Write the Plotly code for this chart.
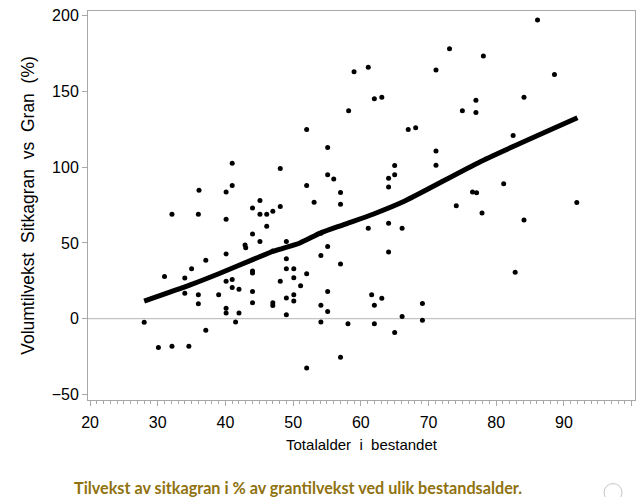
import plotly.graph_objects as go

# Stand age (years) and volume growth of Sitka spruce relative to Norway spruce (%)
age_x = [
    36.1, 41.0, 40.1, 41.0, 45.1, 48.1, 52.0, 52.0, 53.1, 55.1,
    55.1, 56.0, 57.0, 58.2, 59.0, 61.1, 62.0, 63.1, 64.1, 64.1,
    65.0, 65.0, 67.0, 68.1, 71.1, 73.1, 78.1, 86.1, 88.6, 84.1,
    77.0, 75.0, 77.0, 82.5, 71.1, 71.1, 81.1, 76.5, 77.1, 91.9,
    74.1, 77.9, 84.1, 66.1, 82.8, 69.1, 66.1, 69.1, 36.0, 40.1,
    44.0, 45.1, 46.1, 47.0, 48.1, 57.0, 46.1, 44.0, 42.9, 43.0,
    45.1, 49.0, 40.1, 37.1, 47.0, 49.0, 54.1, 54.1, 55.1, 57.0,
    61.1, 64.1, 64.1, 44.0, 44.0, 49.0, 50.1, 50.1, 52.0, 40.1,
    41.0, 41.0, 42.0, 48.1, 51.1, 36.0, 39.0, 44.0, 36.0, 44.0,
    47.0, 47.0, 49.0, 50.1, 50.1, 55.1, 54.1, 55.1, 61.6, 62.0,
    63.1, 40.1, 40.1, 42.0, 49.0, 37.1, 41.5, 54.1, 58.1, 62.0,
    65.0, 57.0, 52.0, 32.1, 31.0, 35.0, 34.0, 34.0, 28.0, 30.1,
    32.1, 34.6,
]
growth_pct = [
    84.8, 102.7, 83.6, 88.0, 78.1, 99.2, 125.0, 88.0, 76.9, 113.0,
    95.0, 92.2, 83.4, 137.3, 163.1, 166.0, 145.2, 146.3, 92.8, 86.9,
    101.2, 95.0, 125.0, 126.1, 164.3, 178.3, 173.5, 197.3, 161.2, 146.3,
    144.3, 137.3, 136.2, 120.9, 110.8, 101.4, 89.1, 83.6, 83.2, 76.7,
    74.6, 69.8, 65.2, 59.8, 30.6, 10.1, 1.5, -1.1, 68.9, 65.7,
    73.1, 68.9, 68.9, 71.0, 74.1, 75.6, 61.0, 56.0, 48.7, 46.8,
    50.9, 50.9, 42.8, 38.6, 44.7, 39.6, 56.5, 41.8, 47.7, 36.1,
    59.8, 63.1, 44.0, 31.5, 30.2, 32.9, 32.9, 27.0, 29.6, 24.7,
    25.8, 20.6, 19.4, 24.7, 21.7, 15.8, 15.8, 17.9, 9.9, 10.5,
    10.5, 8.7, 13.7, 15.8, 11.6, 17.9, 8.9, 4.7, 15.8, 8.9,
    13.5, 6.9, 3.7, 3.7, 2.6, -7.7, -2.2, -2.2, -3.3, -3.3,
    -9.2, -25.4, -32.5, 68.9, 27.9, 32.9, 26.9, 16.8, -2.3, -19.1,
    -18.2, -18.2,
]

# Smoothed trend through the cloud
trend_age = [28.0, 34.8, 39.2, 47.0, 51.0, 54.0, 57.4, 61.8, 66.5, 77.8, 92.0]
trend_pct = [11.6, 22.3, 30.0, 44.4, 50.0, 56.5, 62.0, 69.0, 77.7, 104.0, 132.7]

x_ticks = [20, 30, 40, 50, 60, 70, 80, 90, 100]
y_ticks = [-50, 0, 50, 100, 150, 200]

FRAME = "#a8a8a8"
FONT = "Liberation Sans, Arial, sans-serif"
NB = "\u00a0"

fig = go.Figure()

fig.add_trace(go.Scatter(
    x=age_x, y=growth_pct, mode="markers",
    marker=dict(color="black", size=5, line=dict(width=0)),
    showlegend=False, hoverinfo="x+y",
))
fig.add_trace(go.Scatter(
    x=trend_age, y=trend_pct, mode="lines",
    line=dict(color="black", width=5, shape="spline", smoothing=0.6),
    showlegend=False, hoverinfo="skip",
))

# Horizontal reference line at 0 %
fig.add_hline(y=0, line=dict(color="#b4b4b4", width=1), layer="below")

fig.update_layout(
    width=643, height=497,
    margin=dict(l=88, r=7, t=9, b=97),
    paper_bgcolor="white", plot_bgcolor="white",
    font=dict(family=FONT, color="black", size=16),
    xaxis=dict(
        range=[19.7, 100.5], tickvals=x_ticks, showgrid=False, zeroline=False,
        showline=True, linecolor=FRAME, linewidth=1, mirror=True,
        ticks="outside", ticklen=5, tickcolor=FRAME, tickwidth=1,
        tickfont=dict(size=16), ticklabelstandoff=3,
        minor=dict(dtick=1, ticks="outside", ticklen=3, tickcolor=FRAME, tickwidth=1, showgrid=False),
        title=dict(text=f"Totalalder{NB} i{NB} bestandet", font=dict(size=15), standoff=9),
    ),
    yaxis=dict(
        range=[-53.7, 203.2], tickvals=y_ticks, showgrid=False, zeroline=False,
        showline=True, linecolor=FRAME, linewidth=1, mirror=True,
        ticks="outside", ticklen=5, tickcolor=FRAME, tickwidth=1,
        tickfont=dict(size=16),
        title=dict(text=f"Volumtilvekst{NB} Sitkagran{NB} vs{NB} Gran{NB} (%)",
                   font=dict(size=17.5), standoff=12),
    ),
)

# Caption under the chart
fig.add_annotation(
    x=(72 - 88) / 548, y=(400 - 488) / 391, xref="paper", yref="paper",
    xanchor="left", yanchor="middle", showarrow=False,
    text="<b>Tilvekst av sitkagran i % av grantilvekst ved ulik bestandsalder.</b>",
    font=dict(family="Lato, Open Sans, sans-serif", size=16.2, color="#8f720f"),
)

# Faint round button in the lower right corner
fig.add_shape(
    type="circle", xref="paper", yref="paper",
    x0=(605 - 88) / 548, x1=(623 - 88) / 548,
    y0=(400 - 502) / 391, y1=(400 - 484) / 391,
    line=dict(color="#c4c4c4", width=1), fillcolor="white",
)

fig.write_html("out.html")
